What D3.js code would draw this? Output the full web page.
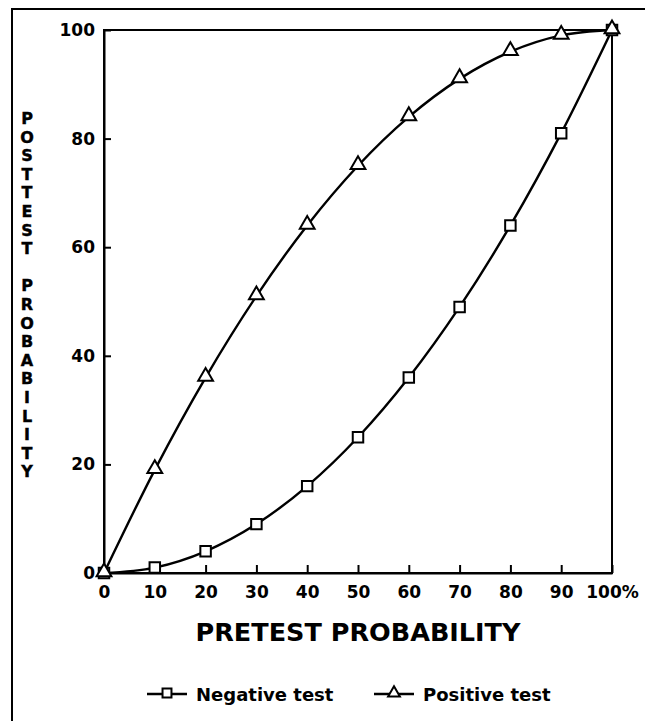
<!DOCTYPE html>
<html>
<head>
<meta charset="utf-8">
<script src="https://cdn.jsdelivr.net/npm/d3@7"></script>
<style>
  body { margin: 0; background: #fff; }
  svg { display: block; }
  text { font-family: "DejaVu Sans", Verdana, sans-serif; font-weight: bold; fill: #000; }
</style>
</head>
<body>
<svg id="chart" width="645" height="721"></svg>
<script>
// Data
const pretest = [0, 10, 20, 30, 40, 50, 60, 70, 80, 90, 100];
const negativeTest = [0, 1, 4, 9, 16, 25, 36, 49, 64, 81, 100];
const positiveTest = [0, 19, 36, 51, 64, 75, 84, 91, 96, 99, 100];
const xTickValues = [0, 10, 20, 30, 40, 50, 60, 70, 80, 90, 100];
const xTickLabels = ["0", "10", "20", "30", "40", "50", "60", "70", "80", "90", "100%"];
const yTickValues = [0, 20, 40, 60, 80, 100];
const yTickLabels = ["0", "20", "40", "60", "80", "100"];
const xTitle = "PRETEST PROBABILITY";
const yTitle = "POSTTEST PROBABILITY";
const seriesNames = ["Negative test", "Positive test"];

const FONT = "'DejaVu Sans', Verdana, sans-serif";
const svg = d3.select("#chart");

// Outer frame (left and top lines)
svg.append("path").attr("d", "M12,721 L12,9 L645,9")
  .attr("fill", "none").attr("stroke", "#000").attr("stroke-width", 2);

const x = d3.scaleLinear().domain([0, 100]).range([104, 612]);
const y = d3.scaleLinear().domain([0, 100]).range([573, 30]);

// Plot box
svg.append("rect")
  .attr("x", x(0)).attr("y", y(100))
  .attr("width", x(100) - x(0)).attr("height", y(0) - y(100))
  .attr("fill", "none").attr("stroke", "#000").attr("stroke-width", 2);

// X axis
const xAxis = d3.axisBottom(x)
  .tickValues(xTickValues)
  .tickFormat((d, i) => xTickLabels[i])
  .tickSizeInner(-8).tickSizeOuter(0).tickPadding(13);
const gx = svg.append("g").attr("transform", `translate(0,${y(0)})`).call(xAxis);
gx.select(".domain").attr("stroke-width", 2);
gx.selectAll(".tick line").attr("stroke-width", 2);
gx.selectAll(".tick text").attr("font-size", 17)
  .attr("font-family", FONT).attr("font-weight", "bold");

// Y axis
const yAxis = d3.axisLeft(y)
  .tickValues(yTickValues)
  .tickFormat((d, i) => yTickLabels[i])
  .tickSizeInner(-7).tickSizeOuter(0).tickPadding(9);
const gy = svg.append("g").attr("transform", `translate(${x(0)},0)`).call(yAxis);
gy.select(".domain").attr("stroke-width", 2);
gy.selectAll(".tick line").attr("stroke-width", 2);
gy.selectAll(".tick text").attr("font-size", 17)
  .attr("font-family", FONT).attr("font-weight", "bold");

// X title
svg.append("text").attr("x", 358).attr("y", 641)
  .attr("text-anchor", "middle").attr("font-size", 25.5)
  .text(xTitle);

// Y title (stacked letters)
const yt = svg.append("text").attr("font-size", 16).attr("text-anchor", "middle")
  .attr("stroke", "#000").attr("stroke-width", 0.4);
yTitle.split("").forEach((ch, i) => {
  if (ch === " ") return;
  yt.append("tspan").attr("x", 27).attr("y", 124 + i * 18.6).text(ch);
});

// Lines
const line = d3.line().x(d => x(d[0])).y(d => y(d[1])).curve(d3.curveMonotoneX);
const negData = pretest.map((p, i) => [p, negativeTest[i]]);
const posData = pretest.map((p, i) => [p, positiveTest[i]]);

svg.append("path").datum(negData).attr("d", line)
  .attr("fill", "none").attr("stroke", "#000").attr("stroke-width", 2.4);
svg.append("path").datum(posData).attr("d", line)
  .attr("fill", "none").attr("stroke", "#000").attr("stroke-width", 2.4);

const sq = d3.symbol().type(d3.symbolSquare).size(110);
const tri = d3.symbol().type(d3.symbolTriangle).size(95);
const triSmall = d3.symbol().type(d3.symbolTriangle).size(60);
const sqSmall = d3.symbol().type(d3.symbolSquare).size(80);

svg.append("g").selectAll("path").data(negData).join("path")
  .attr("d", sq).attr("transform", d => `translate(${x(d[0])},${y(d[1])})`)
  .attr("fill", "#fff").attr("stroke", "#000").attr("stroke-width", 2);
svg.append("g").selectAll("path").data(posData).join("path")
  .attr("d", tri).attr("transform", d => `translate(${x(d[0])},${y(d[1]) - 1})`)
  .attr("fill", "#fff").attr("stroke", "#000").attr("stroke-width", 2);

// Legend
const legend = [
  { name: seriesNames[0], x0: 147, sym: sqSmall },
  { name: seriesNames[1], x0: 374, sym: triSmall }
];
const ly = 694;
legend.forEach(l => {
  svg.append("line").attr("x1", l.x0).attr("x2", l.x0 + 40).attr("y1", ly).attr("y2", ly)
    .attr("stroke", "#000").attr("stroke-width", 2.4);
  svg.append("path").attr("d", l.sym).attr("transform", `translate(${l.x0 + 20},${ly - 1})`)
    .attr("fill", "#fff").attr("stroke", "#000").attr("stroke-width", 2);
  svg.append("text").attr("x", l.x0 + 49).attr("y", ly + 7)
    .attr("font-size", 18).text(l.name);
});
</script>
</body>
</html>
